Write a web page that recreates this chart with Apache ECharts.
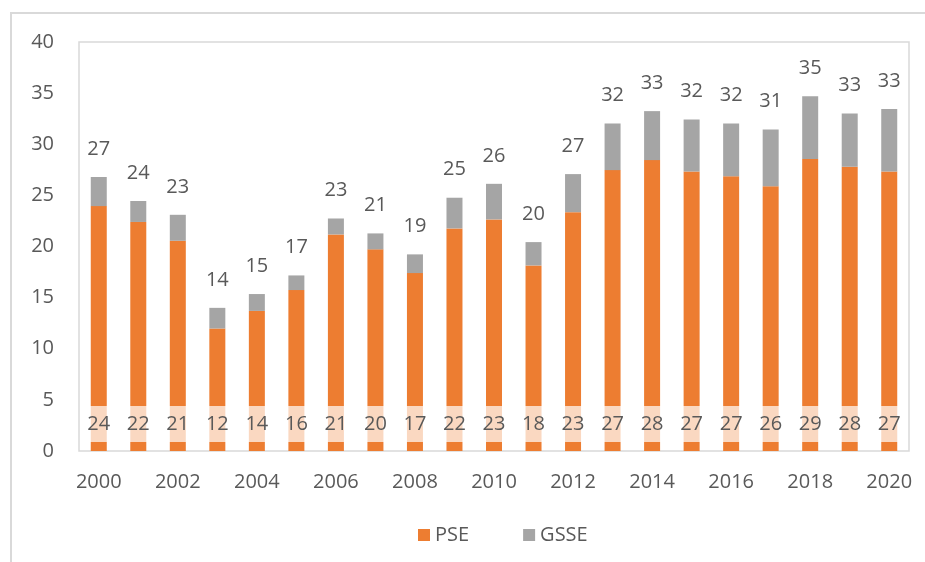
<!DOCTYPE html>
<html>
<head>
<meta charset="utf-8">
<script src="https://cdn.jsdelivr.net/npm/echarts@6/dist/echarts.min.js"></script>
<style>
  html, body { margin: 0; padding: 0; background: #fff; }
  #chart { width: 925px; height: 562px; }
</style>
</head>
<body>
<div id="chart"></div>
<script>
var years = ['2000', '2001', '2002', '2003', '2004', '2005', '2006', '2007', '2008', '2009', '2010',
  '2011', '2012', '2013', '2014', '2015', '2016', '2017', '2018', '2019', '2020'];
var pse = [23.95, 22.4, 20.56, 11.98, 13.7, 15.74, 21.18, 19.72, 17.4, 21.77, 22.65,
  18.15, 23.36, 27.47, 28.45, 27.34, 26.88, 25.9, 28.55, 27.8, 27.34];
var gsse = [2.85, 2.05, 2.54, 2.02, 1.65, 1.43, 1.56, 1.56, 1.83, 3.0, 3.48,
  2.28, 3.72, 4.56, 4.79, 5.08, 5.15, 5.54, 6.15, 5.2, 6.11];
var yTicks = [0, 5, 10, 15, 20, 25, 30, 35, 40];

var font = '"Open Sans", "Liberation Sans", sans-serif';
var textColor = '#595959';

var totals = pse.map(function(v, i) {
  return v + gsse[i];
});

var myChart = echarts.init(document.getElementById('chart'));

var option = {
  animation: false,
  textStyle: { fontFamily: font },
  graphic: [{
    type: 'rect',
    shape: { x: 11, y: 13, width: 940, height: 600 },
    style: { fill: 'none', stroke: '#d9d9d9', lineWidth: 2 },
    silent: true
  }],
  grid: {
    left: 79,
    top: 42,
    right: 16,
    bottom: 111,
    show: true,
    borderColor: '#d9d9d9',
    borderWidth: 1.5,
    backgroundColor: 'transparent'
  },
  legend: {
    top: 525,
    left: 418,
    padding: 0,
    itemWidth: 12,
    itemHeight: 12,
    itemGap: 54,
    icon: 'rect',
    textStyle: { fontSize: 20, color: textColor, fontFamily: font },
    data: ['PSE', 'GSSE']
  },
  xAxis: {
    type: 'category',
    data: years,
    axisLine: { show: false },
    axisTick: { show: false },
    axisLabel: {
      interval: 1,
      margin: 21,
      fontSize: 20,
      color: textColor,
      fontFamily: font
    }
  },
  yAxis: {
    type: 'value',
    min: yTicks[0],
    max: yTicks[yTicks.length - 1],
    interval: 5,
    axisLine: { show: false },
    axisTick: { show: false },
    splitLine: { show: false },
    axisLabel: {
      margin: 25,
      fontSize: 20,
      color: textColor,
      fontFamily: font
    }
  },
  series: [{
    name: 'PSE',
    type: 'bar',
    stack: 'total',
    barWidth: 16,
    color: '#ed7d31',
    data: pse,
    label: {
      show: true,
      position: 'insideBottom',
      distance: 9,
      fontSize: 20,
      color: textColor,
      fontFamily: font,
      lineHeight: 26,
      padding: [5, 0, 5, 0],
      backgroundColor: 'rgba(255,255,255,0.7)',
      formatter: function(p) {
        return Math.round(p.value);
      }
    }
  }, {
    name: 'GSSE',
    type: 'bar',
    stack: 'total',
    barWidth: 16,
    color: '#a5a5a5',
    data: gsse,
    label: {
      show: true,
      position: 'top',
      distance: 18,
      fontSize: 20,
      color: textColor,
      fontFamily: font,
      formatter: function(p) {
        return Math.round(totals[p.dataIndex]);
      }
    }
  }]
};

myChart.setOption(option);
</script>
</body>
</html>
